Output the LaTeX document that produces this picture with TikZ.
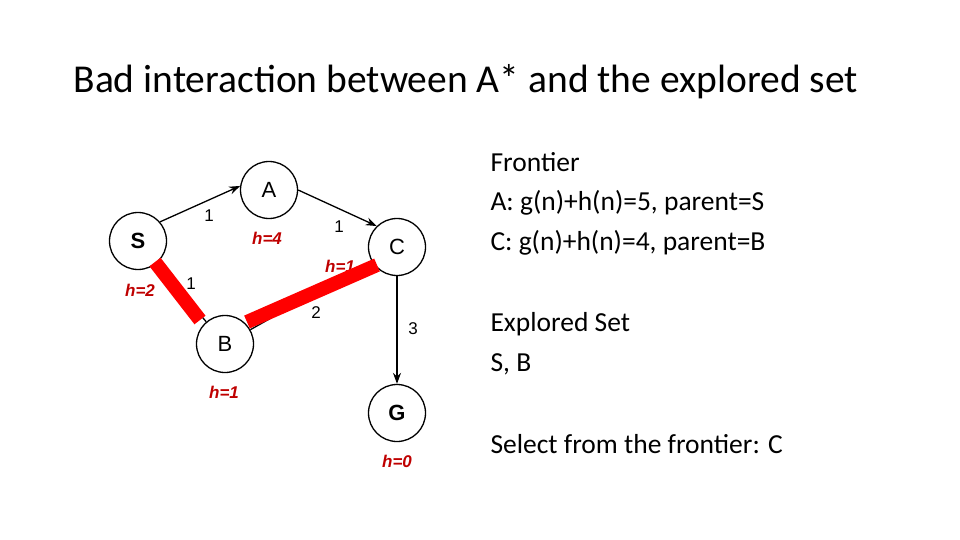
\documentclass[tikz,border=0pt]{standalone}
\usepackage{fontspec}
\setmainfont{Carlito}
\newfontfamily\arialf{Liberation Sans}
\usetikzlibrary{arrows.meta}
\begin{document}
\begin{tikzpicture}[x=1pt,y=-1pt,
  gnode/.style={circle,draw,line width=1.3pt,minimum size=57pt,inner sep=0pt,font=\arialf\fontsize{22}{22}\selectfont},
  hlab/.style={text=red!75!black,font=\arialf\bfseries\itshape\fontsize{17}{17}\selectfont},
  wlab/.style={font=\arialf\fontsize{17}{17}\selectfont},
  arr/.style={line width=1.3pt,-{Stealth[length=11pt,width=8pt]}},
  hl/.style={red,line width=14pt},
  txt/.style={anchor=west,font=\fontsize{27.5}{27.5}\selectfont}]
\useasboundingbox (0,0) rectangle (960,540);
\node[anchor=west,font=\fontsize{39.5}{39.5}\selectfont] (title) at (70,82) {Bad interaction between A* and the explored set};
\node[gnode,font=\arialf\bfseries\fontsize{22}{22}\selectfont] (S) at (138,241) {S};
\node[gnode] (A) at (269,190) {A};
\node[gnode] (C) at (397,247) {C};
\node[gnode] (B) at (225,344) {B};
\node[gnode,font=\arialf\bfseries\fontsize{22}{22}\selectfont] (G) at (397,413) {G};
\node[hlab] (hS) at (140,290) {h=2};
\node[hlab] (hA) at (267,238) {h=4};
\node[hlab] (hC) at (340,266) {h=1};
\node[hlab] (hB) at (224,392) {h=1};
\node[hlab] (hG) at (397,461) {h=0};
\draw[arr] (S.41) -- (A.172);
\draw[arr] (A.0) -- (C.134);
\draw[arr] (C) -- (G);
\draw[line width=1.3pt] (S) -- (B);
\draw[line width=1.3pt] (B) -- (C);
\coordinate (r1) at (155,262); \coordinate (r2) at (200,320);
\coordinate (r3) at (247,322); \coordinate (r4) at (377,265);
\draw[hl] (r1) -- (r2);
\draw[hl] (r3) -- (r4);
\node[wlab] (w1) at (209,216) {1};
\node[wlab] (w2) at (339,227) {1};
\node[wlab] (w3) at (191,284) {1};
\node[wlab] (w4) at (316,313) {2};
\node[wlab] (w5) at (413,329) {3};
\node[txt] (t1) at (487,162) {Frontier};
\node[txt] (t2) at (487,203) {A: g(n)+h(n)=5, parent=S};
\node[txt] (t3) at (487,243) {C: g(n)+h(n)=4, parent=B};
\node[txt] (t4) at (487,324) {Explored Set};
\node[txt] (t5) at (487,364) {S, B};
\node[txt] (t6) at (487,444) {Select from the frontier: C};
\end{tikzpicture}
\end{document}
